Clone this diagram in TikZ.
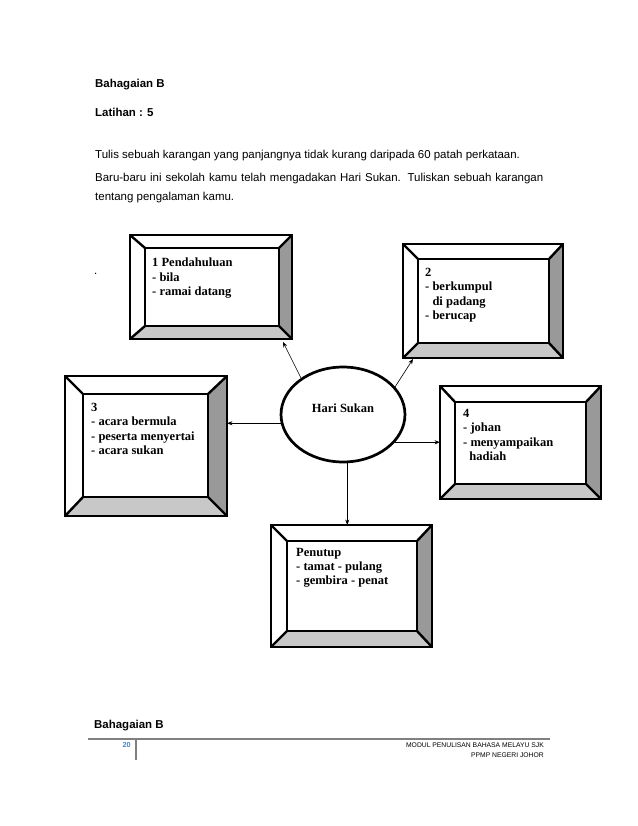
\documentclass[tikz,border=0pt]{standalone}
\usepackage{fontspec}
\setmainfont{Liberation Serif}[BoldFont={Liberation Serif Bold}]
\newfontfamily\arialf{Liberation Sans}
\usetikzlibrary{shapes.geometric,arrows.meta,fit}
\definecolor{bevR}{HTML}{999999}
\definecolor{bevB}{HTML}{C8C8C8}
\definecolor{pgnum}{HTML}{4F81BD}
\definecolor{rulegray}{HTML}{808080}
% name, outer x1 y1 x2 y2, inner x1 y1 x2 y2
\newcommand\bevbox[9]{%
  \fill[white] (#2,#3) rectangle (#4,#5);
  \fill[bevR] (#4,#3) -- (#4,#5) -- (#8,#9) -- (#8,#7) -- cycle;
  \fill[bevB] (#2,#5) -- (#4,#5) -- (#8,#9) -- (#6,#9) -- cycle;
  \draw[diag] (#2,#3) -- (#6,#7) (#4,#3) -- (#8,#7) (#4,#5) -- (#8,#9) (#2,#5) -- (#6,#9);
  \draw[bevline] (#2,#3) rectangle (#4,#5);
  \draw[bevline] (#6,#7) rectangle (#8,#9);
  \node[fit={(#2,#3) (#4,#5)}, inner sep=0pt] (#1) {};
}
\begin{document}
\begin{tikzpicture}[x=0.959248pt,y=-0.959248pt,
  bevline/.style={line width=2.6pt, line join=miter},
  diag/.style={line width=2.3pt},
  boxtext/.style={anchor=north west, inner sep=0pt, align=left, font=\bfseries\fontsize{12}{13.7}\selectfont},
  hdr/.style={anchor=base west, inner sep=0pt, font=\arialf\fontsize{11}{13}\selectfont},
  hdrb/.style={anchor=base west, inner sep=0pt, font=\arialf\bfseries\fontsize{11}{13}\selectfont},
  foot/.style={anchor=base east, inner sep=0pt, font=\arialf\fontsize{6.5}{8}\selectfont},
  arr/.style={-{Stealth[length=5pt,width=4pt]}, line width=0.6pt},
]
\useasboundingbox[fill=white] (0,0) rectangle (638,826);

% header texts
\node[hdrb] (h1) at (95,87.3) {Bahagaian B};
\node[hdrb] (h2) at (95,116.7) {Latihan : 5};
\node[hdr] (h3) at (95,158) {Tulis sebuah karangan yang panjangnya tidak kurang daripada 60 patah perkataan.};
\node[hdr] (h4) at (95,181) {\makebox[429.8pt][s]{Baru-baru ini sekolah kamu telah mengadakan Hari Sukan. Tuliskan sebuah karangan}};
\node[hdr] (h5) at (95,200) {tentang pengalaman kamu.};
\node[hdr] (dot) at (94,274) {.};

% boxes
\bevbox{b1}{130}{235}{292}{339}{145}{248}{279}{326}
\bevbox{b2}{403}{244}{563}{358}{418}{259}{549}{343}
\bevbox{b3}{65}{376}{227}{516}{83}{394}{208}{497}
\bevbox{b4}{440}{386}{601}{499}{455}{402}{586}{484}
\bevbox{b5}{271}{525}{432}{647}{287}{541}{417}{631}

\node[boxtext] (t1) at (152,258) {1 Pendahuluan\\- bila\\- ramai datang};
\node[boxtext] (t2) at (425,268) {2\\- berkumpul\\\hspace*{7pt}di padang\\- berucap};
\node[boxtext] (t3) at (91,403) {3\\- acara bermula\\- peserta menyertai\\- acara sukan};
\node[boxtext] (t4) at (463,409) {4\\- johan\\- menyampaikan\\\hspace*{6pt}hadiah};
\node[boxtext] (t5) at (296,548) {Penutup\\- tamat - pulang\\- gembira - penat};

% centre ellipse
\node[ellipse, draw=black, fill=white, line width=2.6pt, minimum width=118.9pt, minimum height=91.1pt, inner sep=0pt] (e) at (343,414.5) {};
\node[inner sep=0pt, font=\bfseries\fontsize{12}{14}\selectfont] (hs) at (343,408) {Hari Sukan};

% connectors
\coordinate (p1) at (283,342);
\coordinate (p2) at (413,359);
\draw[arr] (e.139) -- (p1);
\draw[arr] (e.28) -- (p2);
\draw[arr] (e.188) -- (e.188 -| b3.east);
\draw[arr] (e.-28.5) -- (e.-28.5 -| b4.west);
\draw[arr] (e.-85) -- (e.-85 |- b5.north);

% footer
\node[hdrb] (h6) at (94,728.3) {Bahagaian B};
\draw[rulegray, line width=1.8pt] (88,739) -- (550,739);
\draw[rulegray, line width=1.8pt] (136,739) -- (136,760);
\node[foot, text=pgnum, font=\arialf\bfseries\fontsize{7}{8}\selectfont] (pg) at (131,747.3) {20};
\node[foot] (f1) at (544,747.3) {MODUL PENULISAN BAHASA MELAYU SJK};
\node[foot] (f2) at (544,757.3) {PPMP NEGERI JOHOR};
\end{tikzpicture}
\end{document}
